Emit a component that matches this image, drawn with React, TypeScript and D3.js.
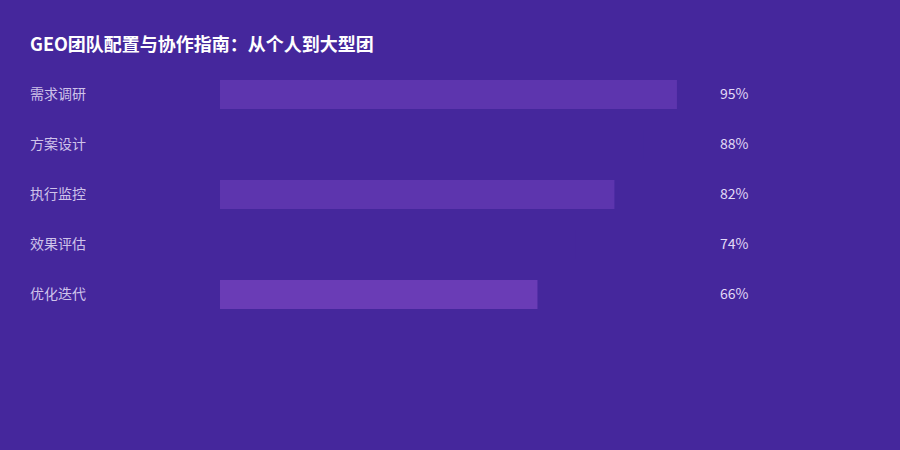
import React from "react";
import * as d3 from "d3";

const title = "GEO团队配置与协作指南：从个人到大型团";
const categories = ["需求调研", "方案设计", "执行监控", "效果评估", "优化迭代"];
const values = [95, 88, 82, 74, 66];
const barColors = ["#5d35ae", "#45279c", "#5d35ae", "#45279c", "#6a3cb6"];

const W = 900;
const H = 450;
const BG = "#45279c";

export default function App() {
  const x = d3.scaleLinear().domain([0, 100]).range([220, 701]);
  const y = d3.scalePoint<string>().domain(categories).range([94, 294]);
  const font = "'Noto Sans CJK SC', 'Noto Sans', sans-serif";
  return (
    <svg width={W} height={H} style={{ position: "absolute", left: 0, top: 0, display: "block" }} fontFamily={font}>
      <rect x={0} y={0} width={W} height={H} fill={BG} />
      <text x={30} y={51} fill="#ffffff" fontSize={18} fontWeight="bold">{title}</text>
      {categories.map((c, i) => {
        const cy = y(c) as number;
        return (
          <g key={c}>
            <rect x={x(0)} y={cy - 14} width={x(values[i]) - x(0)} height={29} fill={barColors[i]} />
            <text x={30} y={cy} dy="0.33em" fill="#cfc3ea" fontSize={14}>{c}</text>
            <text x={720} y={cy} dy="0.33em" fill="#e2daf6" fontSize={14}>{values[i]}%</text>
          </g>
        );
      })}
    </svg>
  );
}
